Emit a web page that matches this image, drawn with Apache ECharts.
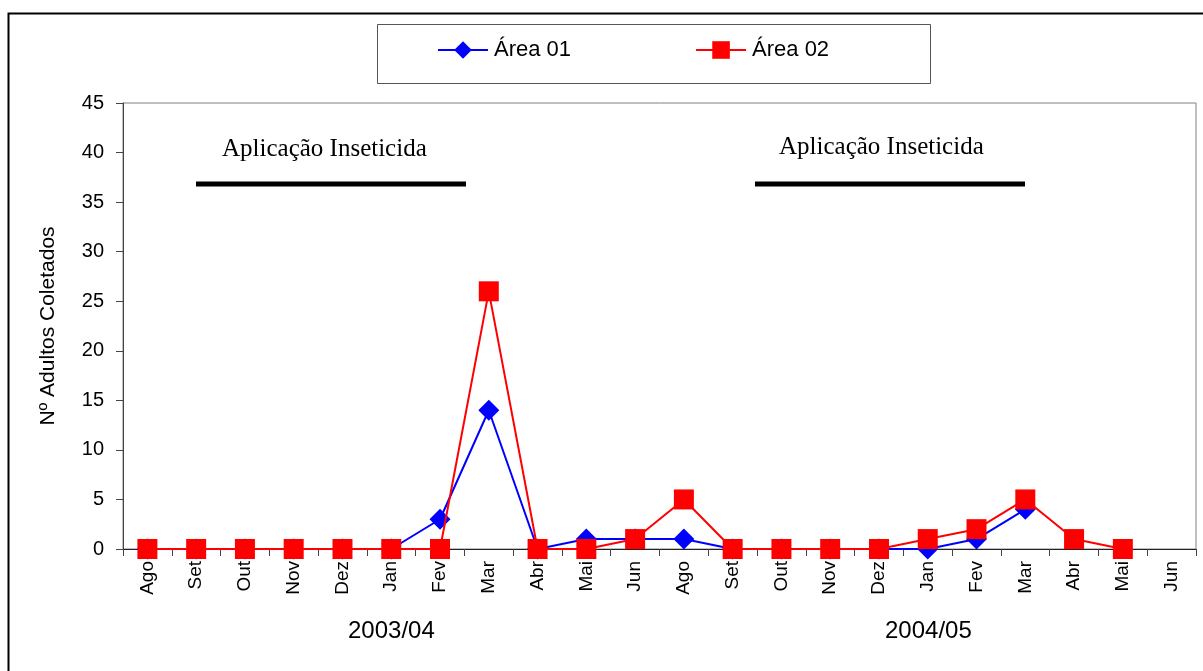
<!DOCTYPE html>
<html>
<head>
<meta charset="utf-8">
<script src="https://cdn.jsdelivr.net/npm/echarts@6/dist/echarts.min.js"></script>
<style>
  html, body { margin: 0; padding: 0; background: #fff; }
  #chart { width: 1203px; height: 671px; }
</style>
</head>
<body>
<div id="chart"></div>
<script>
// meses das duas safras
const meses = ["Ago", "Set", "Out", "Nov", "Dez", "Jan", "Fev", "Mar", "Abr", "Mai", "Jun",
               "Ago", "Set", "Out", "Nov", "Dez", "Jan", "Fev", "Mar", "Abr", "Mai", "Jun"];
const area01 = [0, 0, 0, 0, 0, 0, 3, 14, 0, 1, 1, 1, 0, 0, 0, 0, 0, 1, 4, null, null, null];
const area02 = [0, 0, 0, 0, 0, 0, 0, 26, 0, 0, 1, 5, 0, 0, 0, 0, 1, 2, 5, 1, 0, null];
const yTicks = [0, 5, 10, 15, 20, 25, 30, 35, 40, 45];
const safras = ["2003/04", "2004/05"];

const chart = echarts.init(document.getElementById("chart"));

const sans = "Liberation Sans, Arial";

const option = {
  animation: false,
  backgroundColor: "#fff",
  grid: {
    left: 123, right: 7, top: 103, bottom: 122,
    show: true, borderColor: "#808080", borderWidth: 1
  },
  legend: {
    left: 437, top: 39, padding: 0,
    itemWidth: 50, itemHeight: 22, itemGap: 124,
    textStyle: { fontFamily: sans, fontSize: 22, color: "#000", padding: [0, 0, 0, 1] },
    data: ["Área 01", "Área 02"]
  },
  xAxis: {
    type: "category",
    data: meses,
    boundaryGap: true,
    axisLine: { lineStyle: { color: "#222", width: 1 } },
    axisTick: { show: true, length: 7, lineStyle: { color: "#444" } },
    axisLabel: {
      rotate: 90, margin: 12, interval: 0,
      fontFamily: sans, fontSize: 19, color: "#000"
    },
    splitLine: { show: false }
  },
  yAxis: {
    type: "value",
    min: yTicks[0], max: yTicks[yTicks.length - 1], interval: 5,
    name: "Nº Adultos Coletados",
    nameLocation: "middle", nameGap: 64, nameRotate: 90,
    nameTextStyle: { fontFamily: sans, fontSize: 21, color: "#000" },
    axisLine: { show: true, lineStyle: { color: "#444" } },
    axisTick: { show: true, length: 7, lineStyle: { color: "#444" } },
    axisLabel: { margin: 19, fontFamily: sans, fontSize: 20, color: "#000" },
    splitLine: { show: false }
  },
  series: [
    {
      name: "Área 01",
      type: "line",
      data: area01,
      symbol: "diamond",
      symbolSize: 21,
      color: "#0000ff",
      lineStyle: { width: 2, color: "#0000ff" },
      itemStyle: { color: "#0000ff" },
      connectNulls: false,
      z: 2
    },
    {
      name: "Área 02",
      type: "line",
      data: area02,
      symbol: "rect",
      symbolSize: 20,
      color: "#ff0000",
      lineStyle: { width: 2, color: "#ff0000" },
      itemStyle: { color: "#ff0000" },
      connectNulls: false,
      z: 3
    }
  ],
  graphic: [
    // moldura externa
    { type: "rect", left: 6, top: 11, shape: { width: 1210, height: 680 },
      style: { fill: "none", stroke: "#000", lineWidth: 2 }, silent: true, z: -1 },
    // caixa da legenda
    { type: "rect", left: 375, top: 22, shape: { width: 553, height: 59 },
      style: { fill: "none", stroke: "#555", lineWidth: 1 }, silent: true },
    // períodos de aplicação
    { type: "text", left: 222, top: 137,
      style: { text: "Aplicação Inseticida", font: "25px 'Liberation Serif', 'Times New Roman', serif", fill: "#000" } },
    { type: "line", shape: { x1: 196, y1: 184, x2: 466, y2: 184 },
      style: { stroke: "#000", lineWidth: 5 } },
    { type: "text", left: 779, top: 135,
      style: { text: "Aplicação Inseticida", font: "25px 'Liberation Serif', 'Times New Roman', serif", fill: "#000" } },
    { type: "line", shape: { x1: 755, y1: 184, x2: 1025, y2: 184 },
      style: { stroke: "#000", lineWidth: 5 } },
    // safras
    { type: "text", left: 348, top: 619,
      style: { text: safras[0], font: "24px " + sans, fill: "#000" } },
    { type: "text", left: 885, top: 619,
      style: { text: safras[1], font: "24px " + sans, fill: "#000" } }
  ]
};

chart.setOption(option);
</script>
</body>
</html>
